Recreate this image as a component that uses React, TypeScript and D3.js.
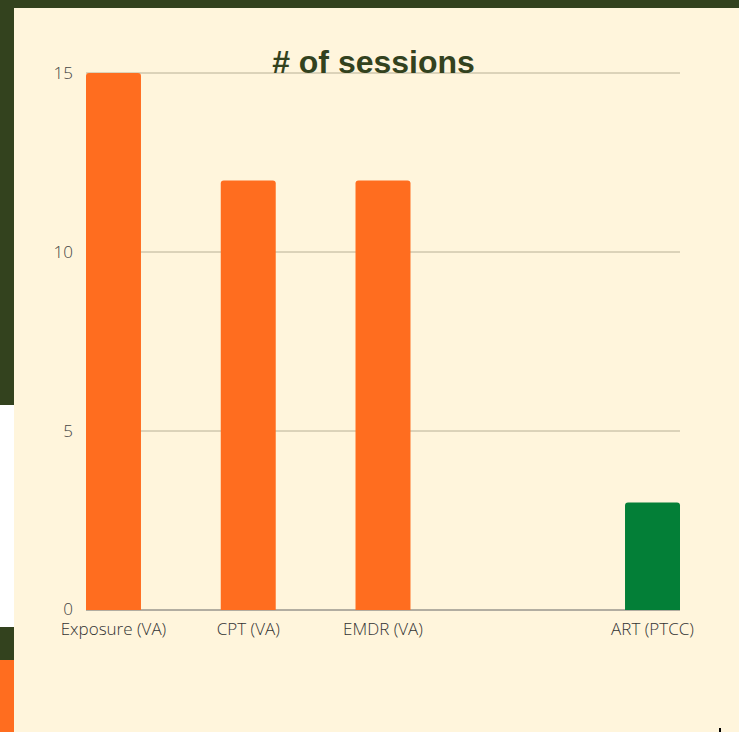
import * as d3 from "d3";

const categories = ["Exposure (VA)", "CPT (VA)", "EMDR (VA)", "", "ART (PTCC)"];
const sessions = [15, 12, 12, 0, 3];
const barColors = ["#FF6D1F", "#FF6D1F", "#FF6D1F", "#FF6D1F", "#037F37"];
const yTicks = [0, 5, 10, 15];

export default function App() {
  const width = 739;
  const height = 732;
  const margin = { top: 73, right: 59, bottom: 122, left: 86 };

  const x = d3
    .scaleBand()
    .domain(categories.map((c, i) => String(i)))
    .range([margin.left, width - margin.right])
    .paddingInner(0.592)
    .paddingOuter(0);

  const y = d3
    .scaleLinear()
    .domain([0, 15])
    .range([height - margin.bottom, margin.top]);

  const r = 3;
  const barPath = (x0: number, y0: number, w: number, y1: number) => {
    const h = y1 - y0;
    if (h <= 0) return "";
    return `M${x0},${y1} V${y0 + r} Q${x0},${y0} ${x0 + r},${y0} H${x0 + w - r} Q${x0 + w},${y0} ${x0 + w},${y0 + r} V${y1} Z`;
  };

  return (
    <div style={{ position: "fixed", left: 0, top: 0 }}>
      <svg width={width} height={height} style={{ display: "block" }}>
        <rect x={0} y={0} width={width} height={height} fill="#FFF5DC" />
        {/* frame strips */}
        <rect x={0} y={0} width={width} height={8} fill="#33421E" />
        <rect x={0} y={0} width={14} height={405} fill="#33421E" />
        <rect x={0} y={405} width={14} height={222} fill="#FFFFFF" />
        <rect x={0} y={627} width={14} height={33} fill="#33421E" />
        <rect x={0} y={660} width={14} height={72} fill="#FF6D1F" />
        <rect x={719} y={728} width={2} height={4} fill="#000" />

        {/* grid */}
        {yTicks.slice(1).map((t) => (
          <line
            key={t}
            x1={margin.left}
            x2={width - margin.right}
            y1={y(t)}
            y2={y(t)}
            stroke="#B8B096"
            strokeWidth={1}
          />
        ))}
        <line
          x1={margin.left}
          x2={width - margin.right}
          y1={y(0)}
          y2={y(0)}
          stroke="#666"
          strokeWidth={1}
        />

        {/* y tick labels */}
        {yTicks.map((t) => (
          <text
            key={t}
            x={73}
            y={y(t) - (t === 0 ? 1 : 0)}
            dy="0.35em"
            textAnchor="end"
            fontFamily="Open Sans"
            fontWeight={300}
            fontSize={17}
            fill="#444"
          >
            {t}
          </text>
        ))}

        {/* bars */}
        {categories.map((c, i) => (
          <path
            key={i}
            d={barPath(x(String(i))!, y(sessions[i]), x.bandwidth(), y(0))}
            fill={barColors[i]}
          />
        ))}

        {/* x labels */}
        {categories.map((c, i) => (
          <text
            key={i}
            x={x(String(i))! + x.bandwidth() / 2}
            y={635}
            textAnchor="middle"
            fontFamily="Open Sans"
            fontWeight={300}
            fontSize={17}
            fill="#333"
          >
            {c}
          </text>
        ))}

        <text
          x={373.5}
          y={73}
          textAnchor="middle"
          fontFamily="Liberation Sans, Arial"
          fontWeight="bold"
          fontSize={32}
          fill="#33421E"
        >
          # of sessions
        </text>
      </svg>
    </div>
  );
}
